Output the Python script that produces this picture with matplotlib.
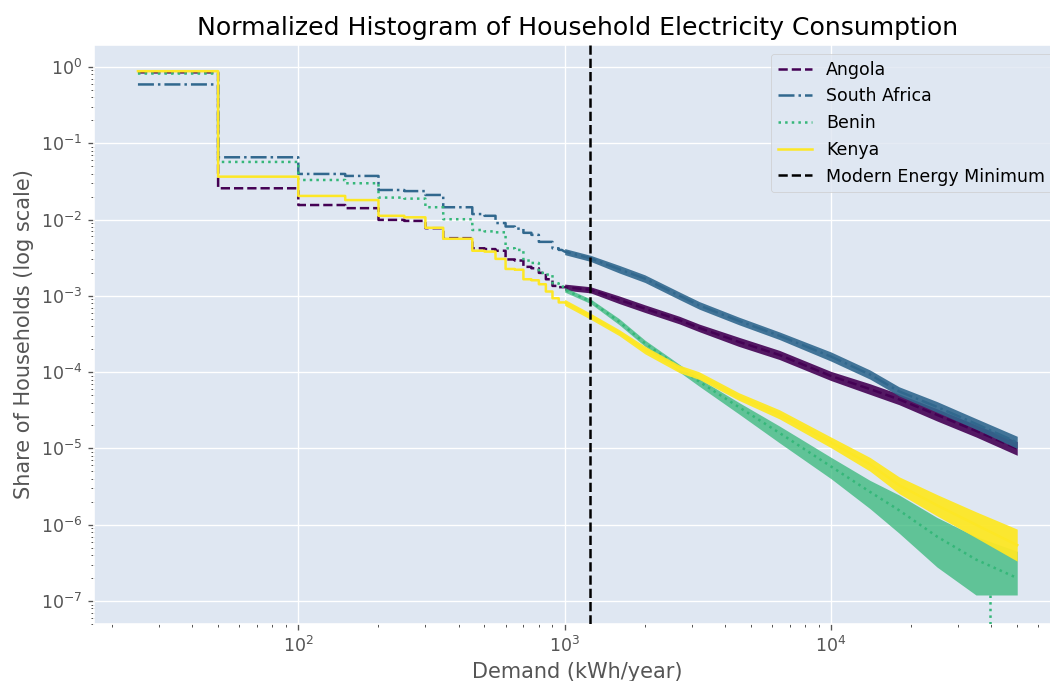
import numpy as np
import matplotlib
matplotlib.use("Agg")
import matplotlib.pyplot as plt

# per-bin shares (50 kWh/year bins, centres shown)
bin_centers = [25, 75, 125, 175, 225, 275, 325, 375, 425, 475,
               525, 575, 625, 675, 725, 775, 825, 875, 925, 975]

angola_bins = [0.85, 0.0257, 0.0155, 0.0141, 0.0099, 0.0096, 0.0077, 0.0057, 0.0057, 0.0042,
               0.0041, 0.0039, 0.0030, 0.0029, 0.0024, 0.0023, 0.0020, 0.00165, 0.00135, 0.0013]
south_africa_bins = [0.59, 0.0655, 0.0396, 0.0373, 0.0244, 0.0236, 0.021, 0.0145, 0.0145, 0.0118,
                     0.0112, 0.0090, 0.0081, 0.0076, 0.0067, 0.0063, 0.0051, 0.0051, 0.0042, 0.0040]
benin_bins = [0.82, 0.0569, 0.033, 0.0299, 0.0194, 0.0188, 0.0145, 0.0101, 0.0101, 0.0073,
              0.0070, 0.0068, 0.0042, 0.0040, 0.0029, 0.0027, 0.0020, 0.0019, 0.00146, 0.0014]
kenya_bins = [0.88, 0.0365, 0.0204, 0.018, 0.0112, 0.0107, 0.0078, 0.0056, 0.0056, 0.0039,
              0.0038, 0.00305, 0.00225, 0.0022, 0.00165, 0.0016, 0.00142, 0.00114, 0.00093, 0.00082]

# tail: trend of the noisy part, plus how far the noise spreads (decades)
tail_x = [1000, 1250, 1600, 2000, 2700, 3200, 4500, 6400, 10000, 14000, 18000, 25000, 35000, 50000]

angola_tail = [1.3e-3, 1.2e-3, 8.9e-4, 6.8e-4, 4.8e-4, 3.8e-4, 2.5e-4, 1.68e-4, 8.9e-5, 6.0e-5, 4.4e-5, 2.75e-5, 1.7e-5, 1.0e-5]
south_africa_tail = [3.8e-3, 3.1e-3, 2.24e-3, 1.68e-3, 1.0e-3, 7.5e-4, 4.7e-4, 3.0e-4, 1.6e-4, 9.3e-5, 5.6e-5, 3.5e-5, 2.1e-5, 1.2e-5]
benin_tail = [1.2e-3, 8.5e-4, 4.6e-4, 2.4e-4, 1.15e-4, 7.5e-5, 3.5e-5, 1.6e-5, 5.8e-6, 2.7e-6, 1.55e-6, 7e-7, 3.5e-7, 2.0e-7]
kenya_tail = [8.2e-4, 5.4e-4, 3.3e-4, 1.95e-4, 1.1e-4, 9.0e-5, 4.8e-5, 2.8e-5, 1.2e-5, 6.2e-6, 3.3e-6, 1.8e-6, 1.0e-6, 5.4e-7]

angola_spread = [0.04, 0.04, 0.05, 0.05, 0.05, 0.05, 0.06, 0.06, 0.06, 0.07, 0.07, 0.08, 0.08, 0.09]
south_africa_spread = [0.04, 0.04, 0.05, 0.05, 0.05, 0.05, 0.05, 0.05, 0.06, 0.06, 0.06, 0.07, 0.07, 0.08]
kenya_spread = [0.04, 0.04, 0.04, 0.05, 0.05, 0.05, 0.05, 0.06, 0.07, 0.09, 0.11, 0.14, 0.17, 0.21]
benin_spread_up = [0.03, 0.03, 0.04, 0.04, 0.04, 0.04, 0.06, 0.09, 0.12, 0.15, 0.20, 0.25, 0.30, 0.35]
benin_spread_down = [0.03, 0.03, 0.04, 0.04, 0.06, 0.06, 0.09, 0.13, 0.16, 0.22, 0.30, 0.40, 0.55, 0.30]
benin_floor = 1.2e-7
benin_dip_x = 39500
benin_dip_y = 1e-9

modern_energy_min = 1250

countries = ["Angola", "South Africa", "Benin", "Kenya"]
styles = ["--", "-.", ":", "-"]
fill_alpha = [0.9, 0.9, 0.75, 0.95]

plt.style.use("ggplot")
plt.rcParams["font.size"] = 10.45
colors = plt.cm.viridis(np.linspace(0, 1, 4))
bg = "#DFE7F2"

fig = plt.figure(figsize=(8.75, 5.675), dpi=120)
ax = fig.add_axes([94 / 1050, 1 - 624 / 681, 967 / 1050, 579 / 681])
ax.set_facecolor(bg)


def stepped(centers, vals):
    c = np.asarray(centers, float)
    v = np.asarray(vals, float)
    mids = (c[:-1] + c[1:]) / 2
    xs = np.concatenate([[c[0]], np.repeat(mids, 2), [c[-1]]])
    ys = np.repeat(v, 2)
    return xs, ys


series = [
    (angola_bins, angola_tail, angola_spread, angola_spread),
    (south_africa_bins, south_africa_tail, south_africa_spread, south_africa_spread),
    (benin_bins, benin_tail, benin_spread_up, benin_spread_down),
    (kenya_bins, kenya_tail, kenya_spread, kenya_spread),
]

for i, (bins, tail, up, down) in enumerate(series):
    sx, sy = stepped(bin_centers, bins)
    x = np.concatenate([sx, tail_x])
    y = np.concatenate([sy, tail])
    ax.plot(x, y, linestyle=styles[i], color=colors[i], lw=1.5, label=countries[i], zorder=2 + i)
    t = np.asarray(tail)
    hi = t * 10 ** np.asarray(up)
    lo = t / 10 ** np.asarray(down)
    if countries[i] == "Benin":
        lo = np.maximum(lo, benin_floor)
        ax.plot([benin_dip_x, benin_dip_x], [benin_floor, benin_dip_y], ":", color=colors[i], lw=1.5, zorder=2 + i)
    ax.fill_between(tail_x, lo, hi, color=colors[i], lw=0, alpha=fill_alpha[i], zorder=2 + i)

ax.axvline(modern_energy_min, color="black", linestyle="--", lw=1.5, label="Modern Energy Minimum", zorder=7)

ax.set_xscale("log")
ax.set_yscale("log")
ax.set_xlim(17.1, 73000)
ax.set_ylim(5.0e-8, 1.94)

ax.set_title("Normalized Histogram of Household Electricity Consumption", color="black")
ax.set_xlabel("Demand (kWh/year)")
ax.set_ylabel("Share of Households (log scale)")
ax.grid(True, which="major", color="white")
leg = ax.legend(loc="upper right", facecolor=bg, edgecolor="#cccccc", framealpha=0.8)

fig.savefig("out.png", dpi=120)
